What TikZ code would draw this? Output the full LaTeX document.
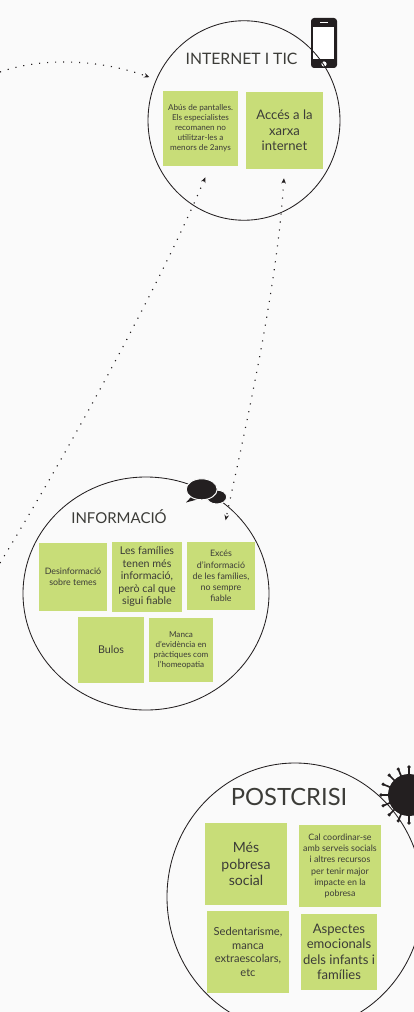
\documentclass[tikz,border=0pt]{standalone}
\usepackage{fontspec}
\setmainfont{Lato}
\usepackage{xcolor}
\usepackage{tikz}
\usetikzlibrary{arrows.meta}
\usetikzlibrary{shapes.geometric}
\definecolor{paper}{HTML}{FAFAFA}
\definecolor{notegreen}{HTML}{C8DD78}
\definecolor{inkdark}{HTML}{231F20}
\definecolor{notetext}{HTML}{3C3C38}
\newcommand{\px}{0.025cm}
\tikzset{
 bigcircle/.style 2 args={draw=inkdark, line width=.6pt, ellipse, inner sep=0, minimum width=#1*\px, minimum height=#2*\px},
 note/.style 2 args={fill=notegreen, text=notetext, align=center, inner sep=0, minimum width=#1*\px, minimum height=#2*\px},
 sizeA/.style={font=\fontsize{5.8}{7.1}\selectfont},
 sizeB/.style={font=\fontsize{6.3}{7.9}\selectfont},
 sizeC/.style={font=\fontsize{7.6}{8.9}\selectfont},
 sizeD/.style={font=\fontsize{7.9}{9.6}\selectfont},
 sizeE/.style={font=\fontsize{9.3}{11}\selectfont},
 sizeF/.style={font=\fontsize{10}{11.8}\selectfont},
 headline/.style={text=notetext, inner sep=0},
 dotline/.style={inkdark, line width=.8pt, dash pattern=on .8pt off 4.9pt, >={Stealth[length=3.8pt,width=3.2pt]}},
}
\begin{document}
\begin{tikzpicture}[x=\px, y=-\px]
\useasboundingbox (0,0) rectangle (414,1012);
\fill[paper] (0,0) rectangle (414,1012);

\fill[inkdark, rounded corners=2.2pt] (311,18) rectangle (337,68);
\fill[white] (313,27) rectangle (334,59);
\fill[white] (324,64) circle (2.6);
\fill[white] (320,21.6) rectangle (328,22.8);

\node[bigcircle={192}{199.5}] (internet) at (244,120.5) {};
\node[bigcircle={246}{233}] (informacio) at (146,593.5) {};
\node[bigcircle={256}{268}] (postcrisi) at (295,897) {};

\fill[inkdark] (218,494) -- (208,500.5) -- (222,502) -- cycle;
\fill[inkdark, draw=paper, line width=.7pt] (216.7,497) ellipse (10 and 7);
\fill[inkdark] (192,496) -- (186,502.5) -- (199,499) -- cycle;
\fill[inkdark, draw=paper, line width=.7pt] (201.7,489.3) ellipse (15.5 and 10.5);

\fill[inkdark] (409,795) circle (21);
\foreach \a in {0,22.5,...,337.5} {
 \draw[inkdark, line width=1.2pt] (409,795) ++(\a:20) --++(\a:8);
 \fill[inkdark] (409,795) ++(\a:28) circle (1.8);
}

\node[headline, font=\fontsize{11.2}{15}\selectfont] (tinternet) at (241.5,59) {INTERNET I TIC};
\node[headline, font=\fontsize{10.65}{15}\selectfont] (tinformacio) at (119,517) {INFORMACIÓ};
\node[headline, font=\fontsize{16.9}{19}\selectfont] (tpostcrisi) at (289,797) {POSTCRISI};

\node[note={75}{75}, sizeA] (abus) at (200.5,128.5) {Abús de pantalles.\\Els especialistes\\recomanen no\\utilitzar-les a\\menors de 2anys};
\node[note={77}{77}, sizeE] (acces) at (284.5,130.5) {Accés a la\\xarxa\\internet};

\node[note={68}{68}, sizeB] (desinfo) at (73,577) {Desinformació\\sobre temes};
\node[note={70}{70}, sizeC] (families) at (147,577) {Les famílies\\tenen més\\informació,\\però cal que\\sigui fiable};
\node[note={68}{68}, sizeB] (exces) at (221,576) {Excés\\d'informació\\de les famílies,\\no sempre\\fiable};
\node[note={66}{66}, sizeC] (bulos) at (111,650) {Bulos};
\node[note={64}{64}, sizeA] (manca) at (181,650) {Manca\\d'evidència en\\pràctiques com\\l'homeopatia};

\node[note={82}{82}, sizeF] (pobresa) at (246,864) {Més\\pobresa\\social};
\node[note={82}{82}, sizeB] (coordinar) at (340,866) {Cal coordinar-se\\amb serveis socials\\i altres recursos\\per tenir major\\impacte en la\\pobresa};
\node[note={82}{82}, sizeD] (sedent) at (248,952) {Sedentarisme,\\manca\\extraescolars,\\etc};
\node[note={76}{76}, sizeE] (emocionals) at (339,952) {Aspectes\\emocionals\\dels infants i\\famílies};

\coordinate (leftA) at (0,72);
\coordinate (leftB) at (0,563);
\draw[dotline, ->, shorten >=5pt] (leftA) .. controls (40,58) and (95,58) .. (internet.155);
\draw[dotline, ->, shorten >=8.5pt] (leftB) .. controls (66,455) and (160,285) .. (abus.284);
\draw[dotline, <->, shorten <=6.4pt, shorten >=15.6pt] (acces.south) .. controls (277,290) and (245,430) .. (exces.north);
\end{tikzpicture}
\end{document}
